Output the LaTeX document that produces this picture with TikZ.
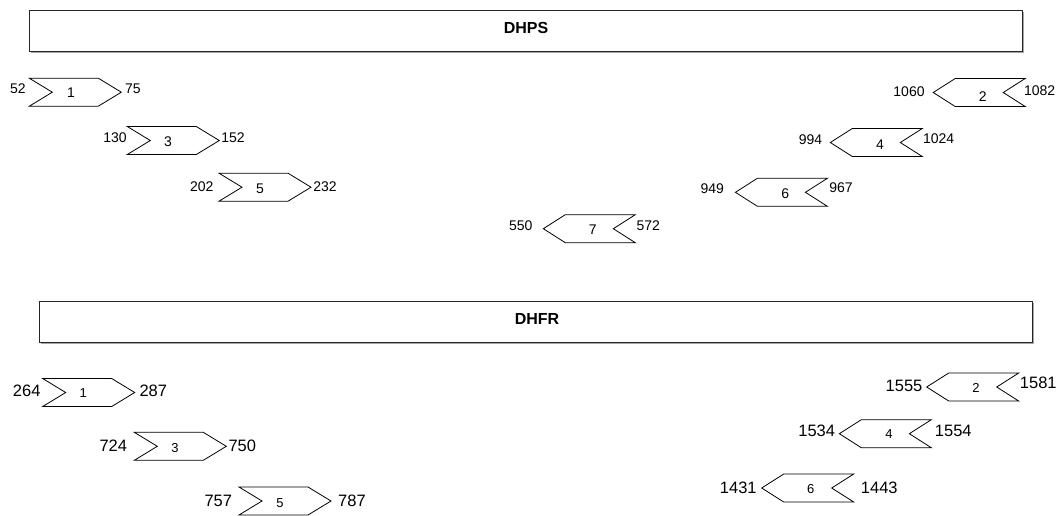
\documentclass[tikz,border=0pt]{standalone}
\usepackage{fontspec}
\setmainfont{Liberation Sans}
\tikzset{
  genebox/.style={draw=black!85, line width=1.1pt},
  genetitle/.style={font=\fontsize{16}{18}\selectfont\bfseries, inner sep=0pt},
  chev/.style={draw=black, line width=0.8pt, line join=miter},
  toplab/.style={font=\fontsize{14}{16}\selectfont, inner sep=0pt},
  botlab/.style={font=\fontsize{16.5}{18}\selectfont, inner sep=0pt},
  topnum/.style={font=\fontsize{14}{16}\selectfont, inner sep=0pt},
  botnum/.style={font=\fontsize{13}{15}\selectfont, inner sep=0pt}
}
% right-pointing chevron: #1 left x, #2 centre y
\newcommand\chevRight[2]{\draw[chev] (#1,#2-14) -- ++(69,0) -- ++(23,14) -- ++(-23,14) -- ++(-69,0) -- ++(23,-14) -- cycle;}
% left-pointing chevron: #1 tip x, #2 centre y
\newcommand\chevLeft[2]{\draw[chev] (#1,#2) -- ++(22,-14) -- ++(70,0) -- ++(-22,14) -- ++(22,14) -- ++(-70,0) -- cycle;}
\begin{document}
\begin{tikzpicture}[x=1pt,y=-1pt]
\useasboundingbox (0,0) rectangle (1063,515);
% shadows of boxes
\draw[black!35, line width=1pt] (30.5,52.8) -- (1023.8,52.8) -- (1023.8,11.8);
\draw[black!35, line width=1pt] (40.5,343.4) -- (1033.8,343.4) -- (1033.8,302.8);
% DHPS
\draw[genebox] (29.3,10.7) rectangle (1022.7,51.7);
\node[genetitle] (dhps) at (526,27.5) {DHPS};
\chevRight{29.3}{92.2}
\node[topnum] (p1) at (71,93) {1};
\node[toplab] (p1a) at (18,89) {52};
\node[toplab] (p1b) at (133,89) {75};
\chevRight{127.3}{140.5}
\node[topnum] (p3) at (168,142) {3};
\node[toplab] (p3a) at (115,138) {130};
\node[toplab] (p3b) at (233,138) {152};
\chevRight{219}{187.2}
\node[topnum] (p5) at (260,189) {5};
\node[toplab] (p5a) at (201.7,186.7) {202};
\node[toplab] (p5b) at (325,186.7) {232};
\chevLeft{933.2}{92.5}
\node[topnum] (p2) at (982.7,97) {2};
\node[toplab] (p2a) at (909,92) {1060};
\node[toplab] (p2b) at (1039.7,91) {1082};
\chevLeft{830.3}{142.5}
\node[topnum] (p4) at (880,145) {4};
\node[toplab] (p4a) at (810.5,140) {994};
\node[toplab] (p4b) at (938.6,139) {1024};
\chevLeft{735.4}{192.3}
\node[topnum] (p6) at (785.2,193.6) {6};
\node[toplab] (p6a) at (712.3,189) {949};
\node[toplab] (p6b) at (841,188) {967};
\chevLeft{543.3}{228.7}
\node[topnum] (p7) at (592.7,230) {7};
\node[toplab] (p7a) at (520.7,226) {550};
\node[toplab] (p7b) at (648.3,226) {572};
% DHFR
\draw[genebox] (39.3,301.7) rectangle (1032.7,342.3);
\node[genetitle] (dhfr) at (537,318.5) {DHFR};
\chevRight{42.7}{392.5}
\node[botnum] (r1) at (83.3,393.3) {1};
\node[botlab] (r1a) at (26.7,390.7) {264};
\node[botlab] (r1b) at (153.3,390.7) {287};
\chevRight{134.3}{446.3}
\node[botnum] (r3) at (175,448.3) {3};
\node[botlab] (r3a) at (113.3,446) {724};
\node[botlab] (r3b) at (242.3,446) {750};
\chevRight{239}{501}
\node[botnum] (r5) at (280,503.3) {5};
\node[botlab] (r5a) at (218.3,500.7) {757};
\node[botlab] (r5b) at (352,500.7) {787};
\chevLeft{926.7}{387}
\node[botnum] (r2) at (976,388.3) {2};
\node[botlab] (r2a) at (904,386) {1555};
\node[botlab] (r2b) at (1038.3,383.3) {1581};
\chevLeft{839.3}{433.7}
\node[botnum] (r4) at (889,434) {4};
\node[botlab] (r4a) at (816.7,431) {1534};
\node[botlab] (r4b) at (953.3,431) {1554};
\chevLeft{761.7}{488}
\node[botnum] (r6) at (810.7,489) {6};
\node[botlab] (r6a) at (738.3,488.3) {1431};
\node[botlab] (r6b) at (879.3,488.3) {1443};
\end{tikzpicture}
\end{document}
